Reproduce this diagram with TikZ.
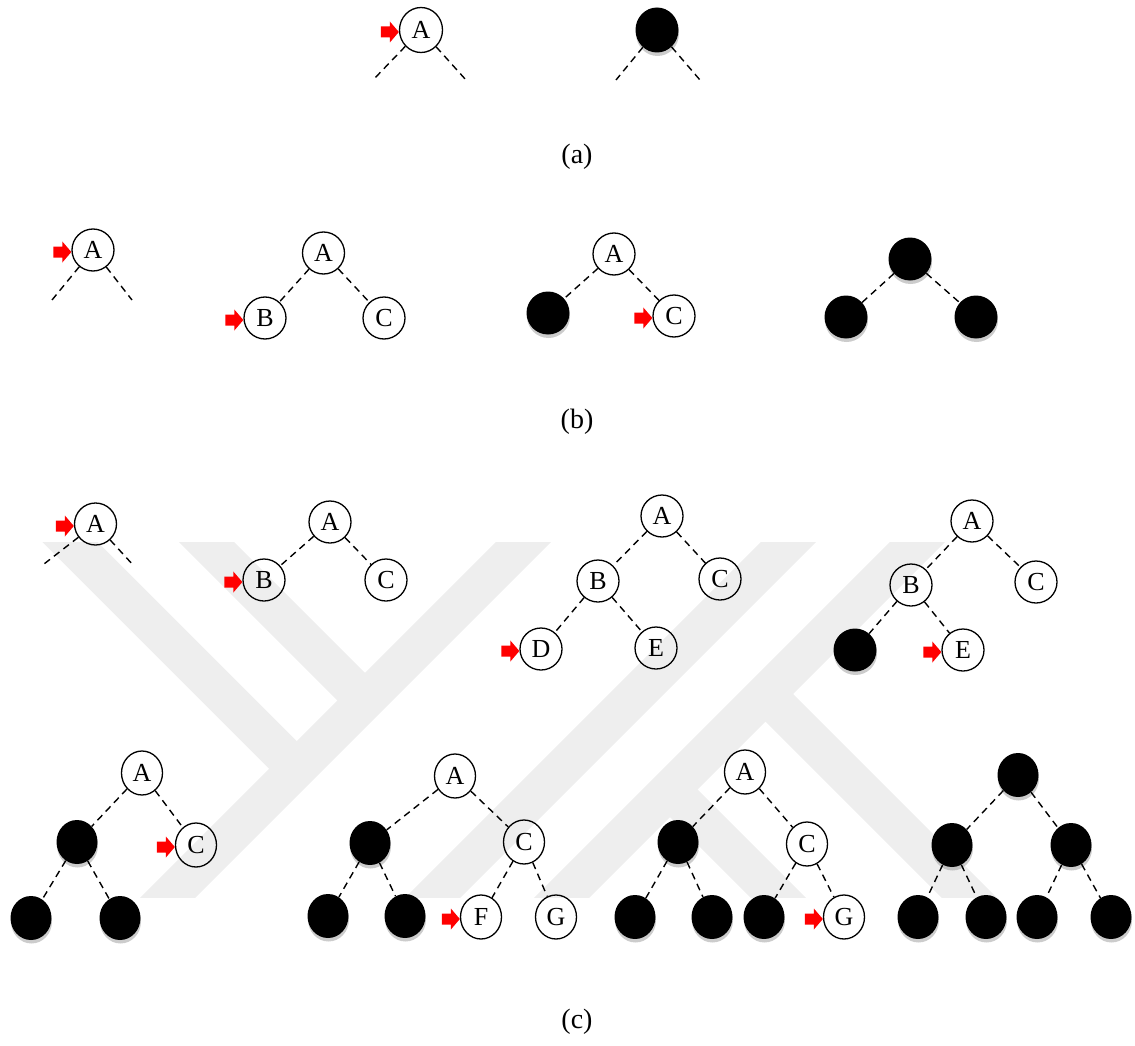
\documentclass[tikz,border=0pt]{standalone}
\usepackage{fontspec}
\setmainfont{Liberation Serif}
\usetikzlibrary{shapes.geometric,shadows}
\definecolor{wm}{RGB}{238,238,238}
\tikzset{
  wn/.style={ellipse, draw, line width=1.3pt, inner sep=0pt, minimum width=42pt, minimum height=42pt, font=\fontsize{26}{26}\selectfont},
  bn/.style={ellipse, fill=black, inner sep=0pt, minimum width=43pt, minimum height=43pt,
    drop shadow={opacity=0.4, shadow xshift=0.5pt, shadow yshift=-3.5pt}},
  tallsz/.style={minimum width=41pt, minimum height=44pt},
  bigsz/.style={minimum width=43pt, minimum height=45pt},
  dedge/.style={line width=1.4pt, dash pattern=on 7pt off 5pt},
  band/.style={line width=39pt, draw=wm, line cap=butt},
  captxt/.style={font=\fontsize{28}{28}\selectfont}
}
\newcommand\redarr[1]{\fill[red] ([shift={(0,2)}]#1.west) -- ++(-9,-10.5) -- ++(0,5) -- ++(-9,0) -- ++(0,11) -- ++(9,0) -- ++(0,5) -- cycle;}
\begin{document}
\begin{tikzpicture}[x=1pt,y=-1pt]
\useasboundingbox (0,0) rectangle (1135,1046);
% watermark
\begin{scope}
\clip (0,542) rectangle (1135,897);
\draw[band] (40,512) -- (296.75,768.75);
\draw[band] (176.5,512) -- (365,700.5);
\draw[band] (553.5,512) -- (143.5,922);
\draw[band] (818.5,512) -- (408.5,922);
\draw[band] (947.5,512) -- (537.5,922);
\draw[band] (765.5,694) -- (1010,938.5);
\draw[band] (670,789.5) -- (810,929.5);
\end{scope}
% ---------- (a)
\node[wn,bigsz] (a1) at (421,30) {A};
\node[bn,bigsz] (a2) at (657,30) {};
\coordinate (a1l) at (373,80); \coordinate (a1r) at (466,80);
\coordinate (a2l) at (616,80); \coordinate (a2r) at (700,80);
\draw[dedge] (a1) -- (a1l); \draw[dedge] (a1) -- (a1r);
\draw[dedge] (a2) -- (a2l); \draw[dedge] (a2) -- (a2r);
\redarr{a1}
\node[captxt] (capa) at (577,157) {(a)};
% ---------- (b)
\node[wn] (b1a) at (93,250) {A};
\coordinate (b1l) at (52,300); \coordinate (b1r) at (132,300);
\draw[dedge] (b1a) -- (b1l); \draw[dedge] (b1a) -- (b1r);
\redarr{b1a}
\node[wn] (b2a) at (323.5,253) {A};
\node[wn] (b2b) at (265,318) {B};
\node[wn] (b2c) at (384,318) {C};
\draw[dedge] (b2a) -- (b2b); \draw[dedge] (b2a) -- (b2c);
\redarr{b2b}
\node[wn] (b3a) at (614,254) {A};
\node[bn] (b3b) at (548,313) {};
\node[wn] (b3c) at (674,316) {C};
\draw[dedge] (b3a) -- (b3b); \draw[dedge] (b3a) -- (b3c);
\redarr{b3c}
\node[bn] (b4a) at (910,259) {};
\node[bn] (b4b) at (846,317) {};
\node[bn] (b4c) at (976,317) {};
\draw[dedge] (b4a) -- (b4b); \draw[dedge] (b4a) -- (b4c);
\node[captxt] (capb) at (577,422) {(b)};
% ---------- (c) row 1
\node[wn] (c1a) at (95.5,524) {A};
\coordinate (c1l) at (44,564); \coordinate (c1r) at (134,566);
\draw[dedge] (c1a) -- (c1l); \draw[dedge] (c1a) -- (c1r);
\redarr{c1a}
\node[wn] (c2a) at (330,522) {A};
\node[wn] (c2b) at (264,580) {B};
\node[wn] (c2c) at (386,580) {C};
\draw[dedge] (c2a) -- (c2b); \draw[dedge] (c2a) -- (c2c);
\redarr{c2b}
\node[wn] (c3a) at (662,516) {A};
\node[wn] (c3b) at (598,581) {B};
\node[wn] (c3c) at (720,579) {C};
\node[wn] (c3d) at (541,649) {D};
\node[wn] (c3e) at (656,648) {E};
\draw[dedge] (c3a) -- (c3b); \draw[dedge] (c3a) -- (c3c);
\draw[dedge] (c3b) -- (c3d); \draw[dedge] (c3b) -- (c3e);
\redarr{c3d}
\node[wn] (c4a) at (972,521) {A};
\node[wn] (c4b) at (911,585) {B};
\node[wn] (c4c) at (1036,582) {C};
\node[bn] (c4d) at (855,650) {};
\node[wn] (c4e) at (963,650) {E};
\draw[dedge] (c4a) -- (c4b); \draw[dedge] (c4a) -- (c4c);
\draw[dedge] (c4b) -- (c4d); \draw[dedge] (c4b) -- (c4e);
\redarr{c4e}
% ---------- (c) row 2
\node[wn,tallsz] (c5a) at (142,773) {A};
\node[bn,tallsz] (c5b) at (77,842) {};
\node[wn,tallsz] (c5c) at (196,845) {C};
\node[bn,tallsz] (c5d) at (31,918) {};
\node[bn,tallsz] (c5e) at (120,918) {};
\draw[dedge] (c5a) -- (c5b); \draw[dedge] (c5a) -- (c5c);
\draw[dedge] (c5b) -- (c5d); \draw[dedge] (c5b) -- (c5e);
\redarr{c5c}
\node[wn,tallsz] (c6a) at (455,776) {A};
\node[bn,tallsz] (c6b) at (370,843) {};
\node[wn,tallsz] (c6c) at (524,842) {C};
\node[bn,tallsz] (c6d) at (328,916) {};
\node[bn,tallsz] (c6e) at (405,916) {};
\node[wn,tallsz] (c6f) at (481,917) {F};
\node[wn,tallsz] (c6g) at (556,917) {G};
\draw[dedge] (c6a) -- (c6b); \draw[dedge] (c6a) -- (c6c);
\draw[dedge] (c6b) -- (c6d); \draw[dedge] (c6b) -- (c6e);
\draw[dedge] (c6c) -- (c6f); \draw[dedge] (c6c) -- (c6g);
\redarr{c6f}
\node[wn,tallsz] (c7a) at (745,772) {A};
\node[bn,tallsz] (c7b) at (678,842) {};
\node[wn,tallsz] (c7c) at (807,844) {C};
\node[bn,tallsz] (c7d) at (635,917) {};
\node[bn,tallsz] (c7e) at (712,917) {};
\node[bn,tallsz] (c7f) at (764,917) {};
\node[wn,tallsz] (c7g) at (844,917) {G};
\draw[dedge] (c7a) -- (c7b); \draw[dedge] (c7a) -- (c7c);
\draw[dedge] (c7b) -- (c7d); \draw[dedge] (c7b) -- (c7e);
\draw[dedge] (c7c) -- (c7f); \draw[dedge] (c7c) -- (c7g);
\redarr{c7g}
\node[bn,tallsz] (c8a) at (1018,775) {};
\node[bn,tallsz] (c8b) at (952,845) {};
\node[bn,tallsz] (c8c) at (1071,845) {};
\node[bn,tallsz] (c8d) at (918,917) {};
\node[bn,tallsz] (c8e) at (986,917) {};
\node[bn,tallsz] (c8f) at (1037,917) {};
\node[bn,tallsz] (c8g) at (1111,917) {};
\draw[dedge] (c8a) -- (c8b); \draw[dedge] (c8a) -- (c8c);
\draw[dedge] (c8b) -- (c8d); \draw[dedge] (c8b) -- (c8e);
\draw[dedge] (c8c) -- (c8f); \draw[dedge] (c8c) -- (c8g);
\node[captxt] (capc) at (577,1022) {(c)};
\end{tikzpicture}
\end{document}
